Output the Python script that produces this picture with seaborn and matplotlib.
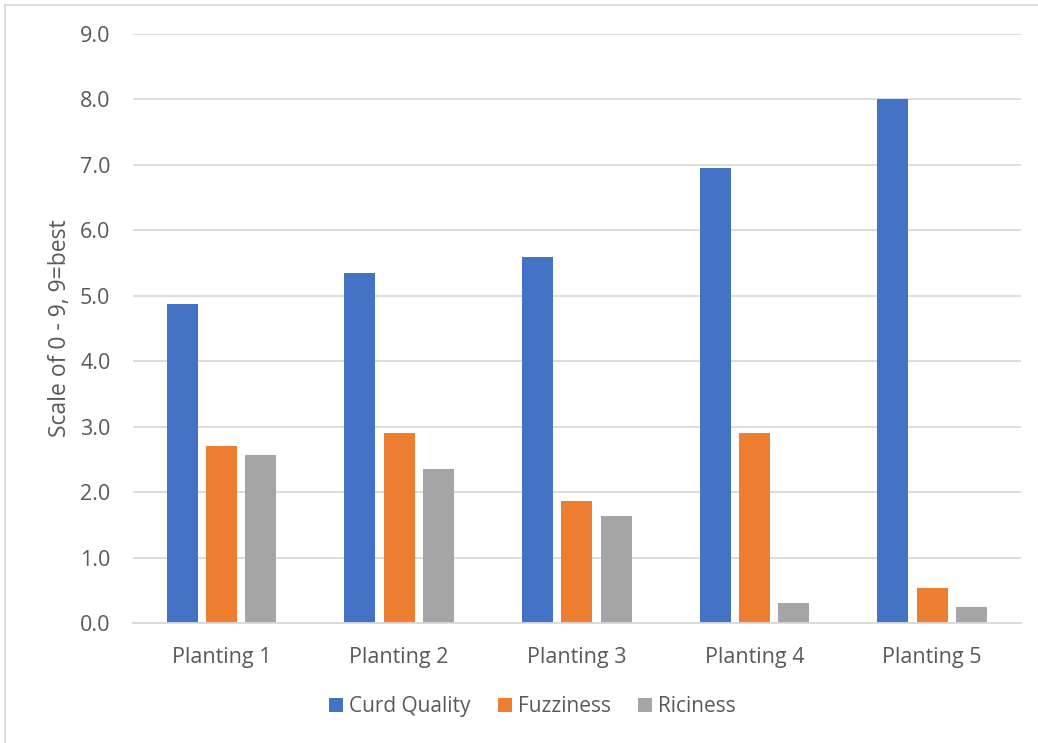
import matplotlib
matplotlib.use("Agg")
import matplotlib.pyplot as plt
import seaborn as sns
import pandas as pd
from matplotlib.lines import Line2D
from matplotlib.patches import Patch

categories = ["Planting 1", "Planting 2", "Planting 3", "Planting 4", "Planting 5"]
curd_quality = [4.88, 5.35, 5.59, 6.96, 8.01]
fuzziness = [2.70, 2.90, 1.86, 2.91, 0.53]
riciness = [2.56, 2.35, 1.63, 0.31, 0.24]
series_names = ["Curd Quality", "Fuzziness", "Riciness"]
colors = ["#4472C4", "#ED7D31", "#A5A5A5"]
yticks = [0, 1, 2, 3, 4, 5, 6, 7, 8, 9]

rows = []
for name, vals in zip(series_names, [curd_quality, fuzziness, riciness]):
    for c, v in zip(categories, vals):
        rows.append({"Planting": c, "Series": name, "Value": v})
df = pd.DataFrame(rows)

sns.set_theme(style="white")
plt.rcParams['font.family'] = ['Open Sans', 'DejaVu Sans']

fig = plt.figure(figsize=(10.38, 7.43), dpi=100)
ax = fig.add_axes([0.1278, 0.1615, 0.8558, 0.7927])

sns.barplot(data=df, x="Planting", y="Value", hue="Series", hue_order=series_names,
            palette=colors, width=0.666, gap=0.216, ax=ax, legend=False,
            edgecolor="none", linewidth=0, errorbar=None, saturation=1)

ax.set_ylim(0, 9)
ax.set_xlim(-0.5, 4.5)
ax.set_yticks(yticks)
ax.set_yticklabels([f"{t:.1f}" for t in yticks])
ax.yaxis.grid(True, color="#D9D9D9", linewidth=1.3)
ax.set_axisbelow(True)
for s in ["left", "right", "top"]:
    ax.spines[s].set_visible(False)
ax.spines["bottom"].set_color("#D9D9D9")
ax.spines["bottom"].set_linewidth(1.3)
ax.tick_params(axis="both", length=0, labelsize=15.5, colors="#595959")
ax.tick_params(axis="x", pad=17)
ax.tick_params(axis="y", pad=16)
ax.set_xlabel("")
ax.set_ylabel("Scale of 0 - 9, 9=best", fontsize=16.5, color="#595959")
ax.yaxis.set_label_coords(-0.068, 0.5)

handles = [Patch(facecolor=c, edgecolor="none") for c in colors]
fig.legend(handles, series_names, loc="center", bbox_to_anchor=(0.513, 0.0485), ncol=3,
           frameon=False, fontsize=15, handlelength=0.67, handleheight=0.67,
           columnspacing=1.3, handletextpad=0.3, labelcolor="#595959")

# outer chart border (left and top edges visible in the reference)
fig.add_artist(Line2D([5 / 1038, 5 / 1038], [0, 1 - 5 / 743], transform=fig.transFigure,
                      color="#D9D9D9", linewidth=1.3))
fig.add_artist(Line2D([5 / 1038, 1], [1 - 5 / 743, 1 - 5 / 743], transform=fig.transFigure,
                      color="#D9D9D9", linewidth=1.3))

fig.savefig("out.png", dpi=100)
